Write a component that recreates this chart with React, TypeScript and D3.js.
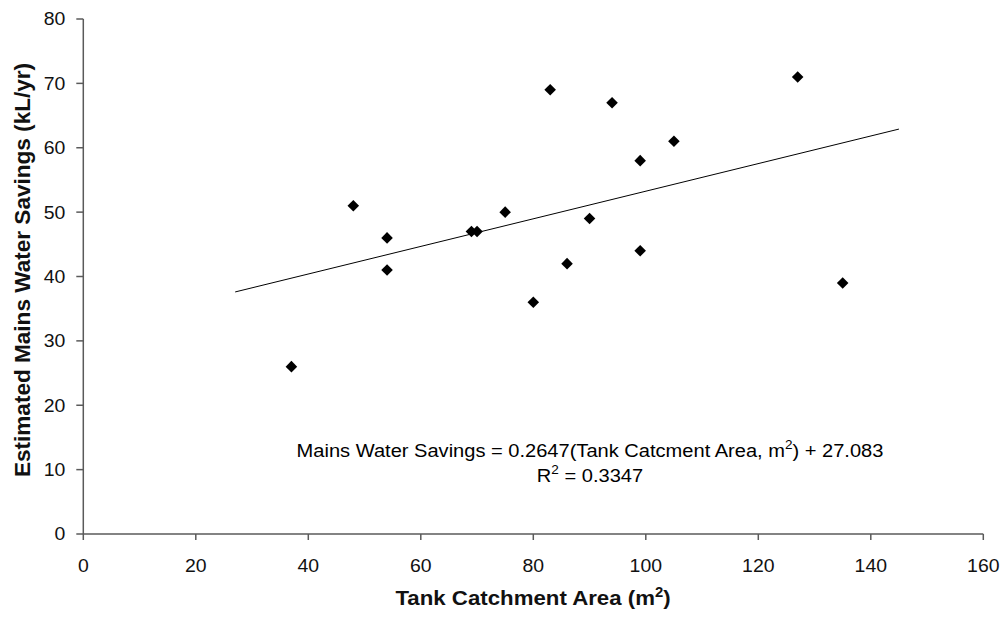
import React from "react";
import * as d3 from "d3";

const catchmentArea = [37, 48, 54, 54, 69, 70, 75, 80, 83, 86, 90, 94, 99, 99, 105, 127, 135];
const waterSavings = [26, 51, 46, 41, 47, 47, 50, 36, 69, 42, 49, 67, 58, 44, 61, 71, 39];
const trendX = [27, 145];
const trendY = [37.6, 62.9];
const xTicks = [0, 20, 40, 60, 80, 100, 120, 140, 160];
const yTicks = [0, 10, 20, 30, 40, 50, 60, 70, 80];

const W = 1006;
const H = 623;
const FONT = "'Liberation Sans', Arial, sans-serif";
const SX = 1.08;

export default function App() {
  const x = d3.scaleLinear().domain([0, 160]).range([83.3, 983.3]);
  const y = d3.scaleLinear().domain([0, 80]).range([534, 19]);
  const axisColor = "#5a5a5a";
  const diamond = d3.symbol().type(d3.symbolDiamond2).size(85)();
  const line = d3
    .line<number>()
    .x((_, i) => x(trendX[i]))
    .y((d) => y(d));

  return (
    <div style={{ position: "fixed", left: 0, top: 0 }}>
      <svg width={W} height={H} style={{ display: "block", background: "#fff" }}>
        {/* axes */}
        <line x1={x(0)} x2={x(0)} y1={y(80)} y2={y(0)} stroke={axisColor} strokeWidth={1.5} />
        <line x1={x(0)} x2={x(160)} y1={y(0)} y2={y(0)} stroke={axisColor} strokeWidth={1.5} />
        {yTicks.map((t) => (
          <g key={"y" + t}>
            <line x1={x(0) - 7} x2={x(0)} y1={y(t)} y2={y(t)} stroke={axisColor} strokeWidth={1.5} />
            <text
              transform={`translate(${x(0) - 18},${y(t)}) scale(${SX},1)`}
              dy="0.36em"
              textAnchor="end"
              fontFamily={FONT}
              fontSize={18}
              fill="#111"
            >
              {t}
            </text>
          </g>
        ))}
        {xTicks.map((t) => (
          <g key={"x" + t}>
            <line x1={x(t)} x2={x(t)} y1={y(0)} y2={y(0) + 6} stroke={axisColor} strokeWidth={1.5} />
            <text
              transform={`translate(${x(t)},${y(0) + 38}) scale(${SX},1)`}
              textAnchor="middle"
              fontFamily={FONT}
              fontSize={18}
              fill="#111"
            >
              {t}
            </text>
          </g>
        ))}
        {/* trend line */}
        <path d={line(trendY) || ""} fill="none" stroke="#000" strokeWidth={1} />
        {/* points */}
        {catchmentArea.map((cx, i) => (
          <path key={i} d={diamond || ""} transform={`translate(${x(cx)},${y(waterSavings[i])})`} fill="#000" />
        ))}
        {/* equation */}
        <text
          transform={`translate(590,457) scale(1.085,1)`}
          textAnchor="middle"
          fontFamily={FONT}
          fontSize={18.5}
          fill="#000"
        >
          Mains Water Savings = 0.2647(Tank Catcment Area, m
          <tspan dy={-8} fontSize={12.5}>2</tspan>
          <tspan dy={8}>) + 27.083</tspan>
        </text>
        <text
          transform={`translate(590,482) scale(1.085,1)`}
          textAnchor="middle"
          fontFamily={FONT}
          fontSize={18.5}
          fill="#000"
        >
          R<tspan dy={-8} fontSize={12.5}>2</tspan>
          <tspan dy={8}> = 0.3347</tspan>
        </text>
        {/* axis titles */}
        <text
          transform={`translate(533,605) scale(1.06,1)`}
          textAnchor="middle"
          fontFamily={FONT}
          fontSize={21}
          fontWeight="bold"
          fill="#111"
        >
          Tank Catchment Area (m<tspan dy={-8} fontSize={14}>2</tspan>
          <tspan dy={8}>)</tspan>
        </text>
        <text
          transform={`translate(30,270) rotate(-90) scale(1.05,1)`}
          textAnchor="middle"
          fontFamily={FONT}
          fontSize={21.5}
          fontWeight="bold"
          fill="#111"
        >
          Estimated Mains Water Savings (kL/yr)
        </text>
      </svg>
    </div>
  );
}
